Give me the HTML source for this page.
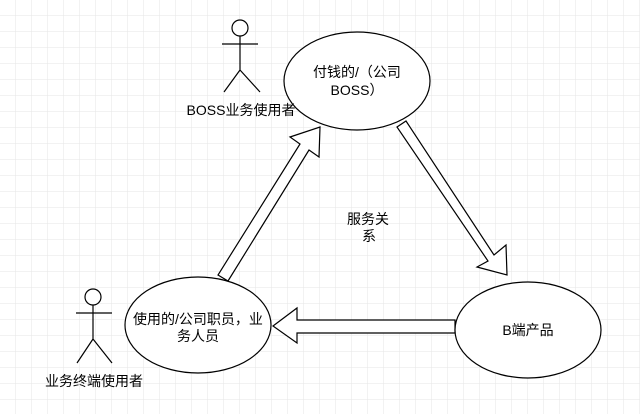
<!DOCTYPE html>
<html><head><meta charset="utf-8"><style>
html,body{margin:0;padding:0;background:#fff;}
svg{display:block;}
text{font-family:"Liberation Sans","Noto Sans CJK SC",sans-serif;font-size:14px;fill:#000;}
</style></head><body>
<svg width="640" height="414" viewBox="0 0 640 414" xmlns="http://www.w3.org/2000/svg">
<defs>
<pattern id="g" width="16" height="16" patternUnits="userSpaceOnUse">
<path d="M16 0V16H0" fill="none" stroke="#e6e6e6" stroke-width="1"/>
</pattern>
</defs>
<rect width="640" height="414" fill="url(#g)"/>
<g fill="#fff" stroke="#000" stroke-width="1.2">
<polygon points="218,275 228,281 309,150 319,157 320,127 290,137 300,144"/>
<polygon points="397,127 406,121 494,255 506,245 507,275 477,267 488,261"/>
<polygon points="455,320 297,320 297,308 273,326 297,343 297,333 455,333"/>
<ellipse cx="357" cy="81" rx="73" ry="49"/>
<ellipse cx="198" cy="325" rx="73" ry="48"/>
<ellipse cx="528" cy="330" rx="73" ry="48"/>
</g>
<g fill="none" stroke="#000" stroke-width="1.2">
<circle cx="240" cy="28" r="8" fill="#fff"/>
<path d="M240 36V70M222 44H258M240 70L224 92M240 70L260 92"/>
<circle cx="93" cy="297" r="8" fill="#fff"/>
<path d="M93 305V339M76 313H112M93 339L77 363M93 339L112 363"/>
</g>
<text x="357" y="77" text-anchor="middle">付钱的/（公司</text>
<text x="357" y="95" text-anchor="middle">BOSS）</text>
<text x="241" y="115" text-anchor="middle">BOSS业务使用者</text>
<text x="198" y="324" text-anchor="middle">使用的/公司职员，业</text>
<text x="198" y="341" text-anchor="middle">务人员</text>
<text x="94" y="386" text-anchor="middle">业务终端使用者</text>
<text x="528" y="335" text-anchor="middle">B端产品</text>
<text x="368" y="224" text-anchor="middle">服务关</text>
<text x="369" y="241" text-anchor="middle">系</text>
</svg>
</body></html>
